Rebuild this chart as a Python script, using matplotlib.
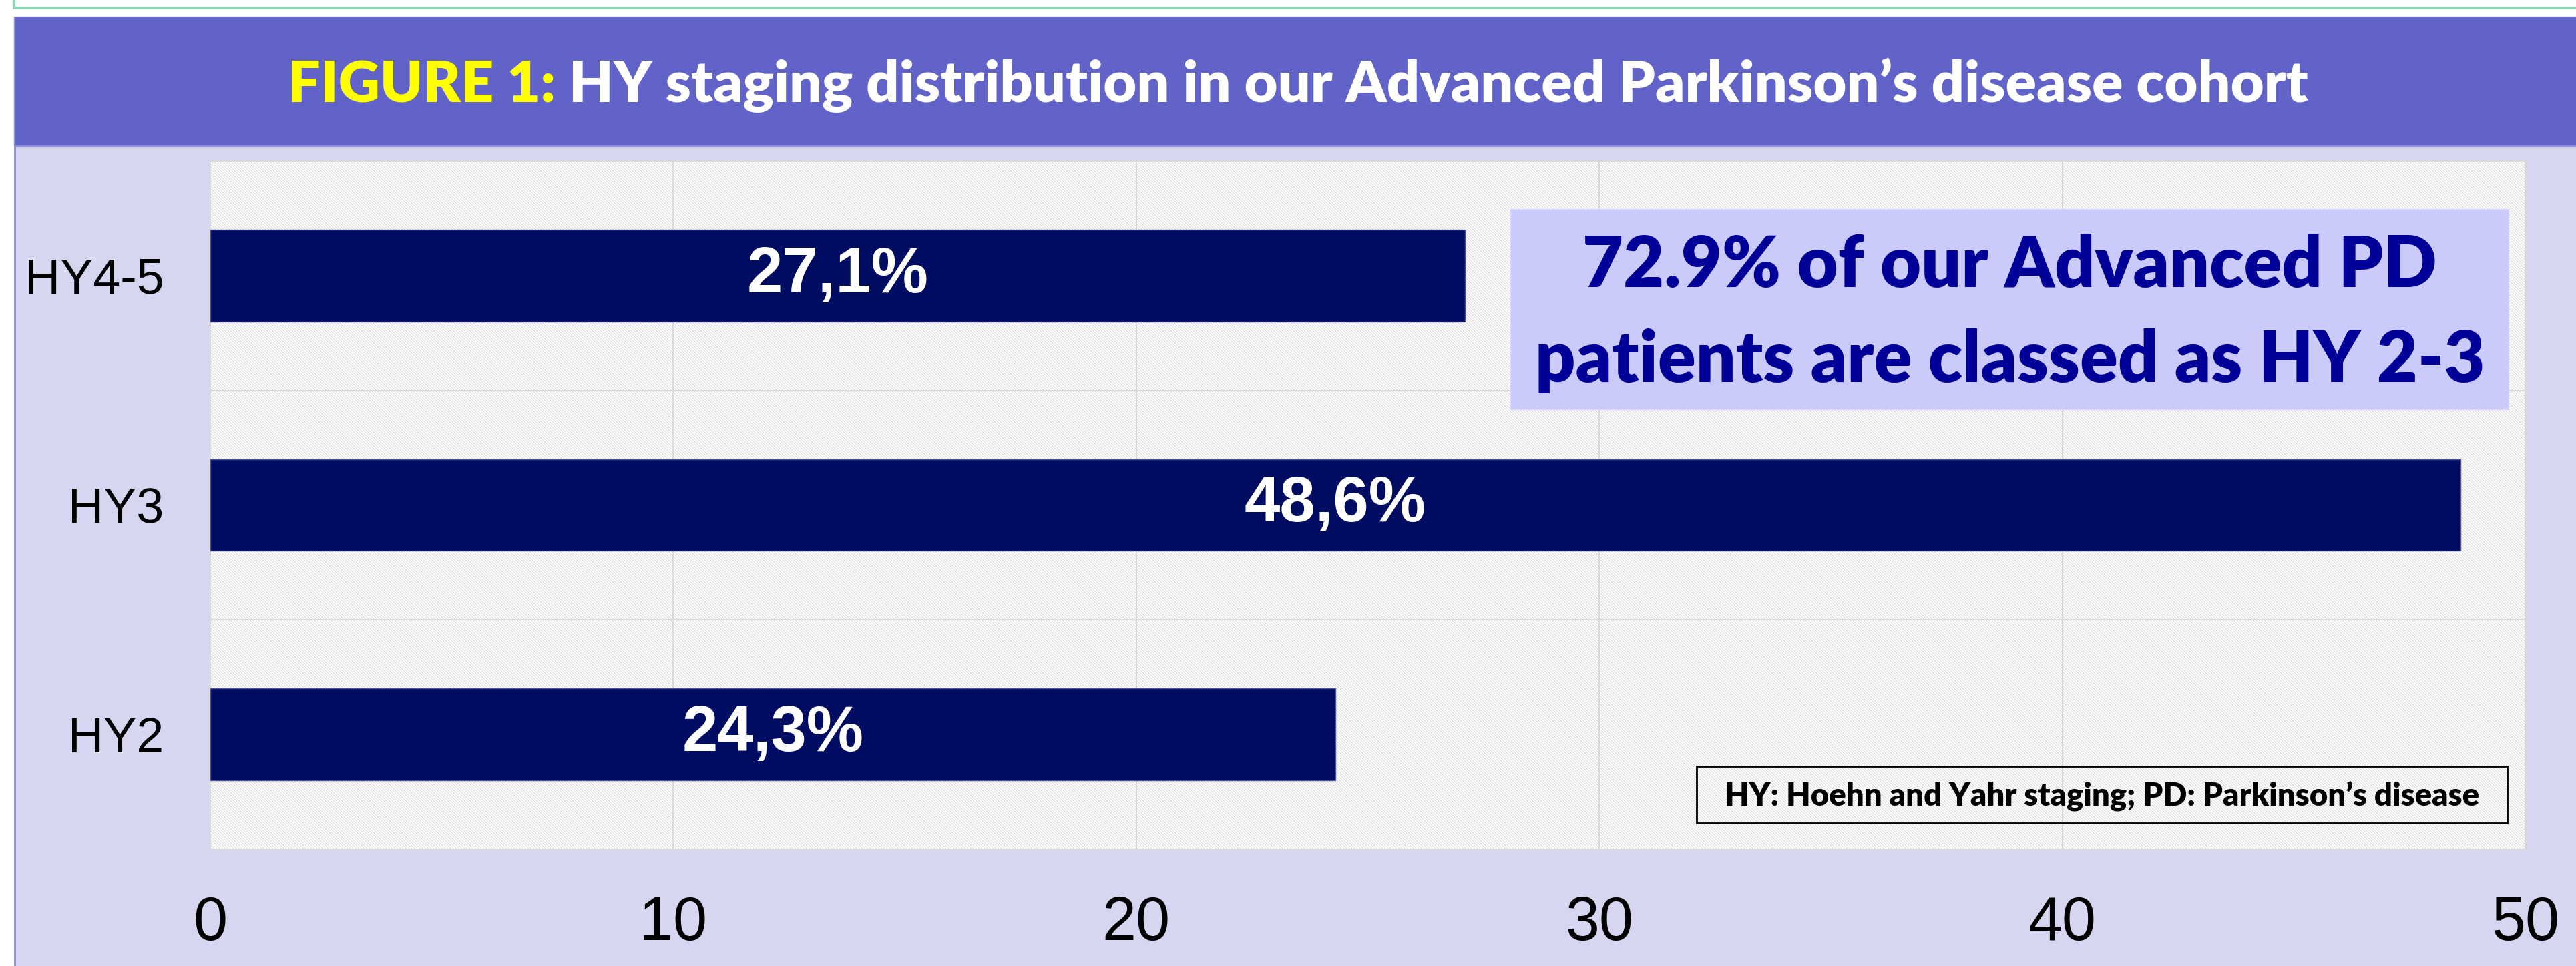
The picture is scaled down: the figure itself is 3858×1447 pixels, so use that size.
import matplotlib
matplotlib.use("Agg")
import matplotlib.pyplot as plt
from matplotlib.patches import Rectangle

# data
categories = ["HY2", "HY3", "HY4-5"]
values = [24.3, 48.6, 27.1]
value_labels = ["24,3%", "48,6%", "27,1%"]
x_ticks = [0, 10, 20, 30, 40, 50]

title_a = "FIGURE 1:"
title_b = " HY staging distribution in our Advanced Parkinson\u2019s disease cohort"
note_lines = ["72.9% of our Advanced PD", "patients are classed as HY 2-3"]
footnote = "HY: Hoehn and Yahr staging; PD: Parkinson\u2019s disease"

W, H = 3858, 1447
fig = plt.figure(figsize=(W / 100, H / 100), dpi=100, facecolor="white")
plt.rcParams["hatch.linewidth"] = 0.6


def rect(x0, y0, x1, y1, **kw):
    # pixel box (top-left origin) -> figure rectangle
    r = Rectangle((x0 / W, 1 - y1 / H), (x1 - x0) / W, (y1 - y0) / H,
                  transform=fig.transFigure, **kw)
    fig.patches.append(r)
    return r


# frame pieces
rect(21, -5, W + 5, 12, facecolor="white", edgecolor="#8BD5B2", lw=3, zorder=-10)
rect(21, 25, W + 5, 218, facecolor="#6163C8", edgecolor="#8a8ce0", lw=1, zorder=-10)
rect(22, 218, W + 5, H + 5, facecolor="#D6D6F0", edgecolor="#8A8ADF", lw=2, zorder=-10)

# title in two colours
renderer = fig.canvas.get_renderer()
tfont = dict(family="Lato", weight="heavy", fontsize=62)
ta = fig.text(0, 1 - 153 / H, title_a, color="#FFFF00", va="baseline", ha="left", **tfont)
tb = fig.text(0, 1 - 153 / H, title_b, color="white", va="baseline", ha="left", **tfont)
wa = ta.get_window_extent(renderer).width
wb = tb.get_window_extent(renderer).width
start = 1944 - (wa + wb) / 2
ta.set_x(start / W)
tb.set_x((start + wa) / W)

# plot area
ax = fig.add_axes([315 / W, 1 - 1272 / H, (3782 - 315) / W, (1272 - 241) / H])
ax.set_facecolor("white")
ax.add_patch(Rectangle((0, 0), 1, 1, transform=ax.transAxes, facecolor="white",
                       edgecolor="#d6d6d6", hatch="\\\\\\\\\\\\\\\\", lw=0, zorder=0))

ypos = list(range(len(categories)))
ax.barh(ypos, values, height=0.4, color="#000C62", edgecolor="#4a4f9a", lw=1, zorder=3)
for y, v, lab in zip(ypos, values, value_labels):
    ax.text(v / 2, y, lab, color="white", ha="center", va="center",
            family="Liberation Sans", weight="bold", fontsize=69, zorder=4)

ax.set_xlim(0, 50)
ax.set_ylim(-0.5, 2.5)
ax.set_xticks(x_ticks)
ax.set_xticklabels([str(t) for t in x_ticks], family="Liberation Sans", fontsize=66)
ax.set_yticks(ypos)
ax.set_yticklabels(categories, family="Liberation Sans", fontsize=53)
ax.tick_params(axis="x", length=0, pad=50)
ax.tick_params(axis="y", length=0, pad=50)

for x in x_ticks[1:-1]:
    ax.axvline(x, color="#d9d9d9", lw=1.5, zorder=1)
for y in [0.5, 1.5]:
    ax.axhline(y, color="#d9d9d9", lw=1.5, zorder=1)
for s in ax.spines.values():
    s.set_color("#d9d9d9")
    s.set_linewidth(1.5)

# highlight box
rect(2262, 313, 3757, 613, facecolor="#CACAFB", edgecolor="#d8d8ff", lw=1, zorder=1)
for txt, yb in zip(note_lines, [430, 572]):
    fig.text(3010 / W, 1 - yb / H, txt, color="#000099", ha="center", va="baseline",
             family="Lato", weight="heavy", fontsize=76, zorder=5)

# footnote box
rect(2541, 1148, 3755, 1233, facecolor="none", edgecolor="black", lw=2, zorder=1)
fig.text(3148 / W, 1 - 1208 / H, footnote, color="black", ha="center", va="baseline",
         family="Lato", weight="heavy", fontsize=34, zorder=5)

fig.savefig("out.png", dpi=100, facecolor=fig.get_facecolor())
